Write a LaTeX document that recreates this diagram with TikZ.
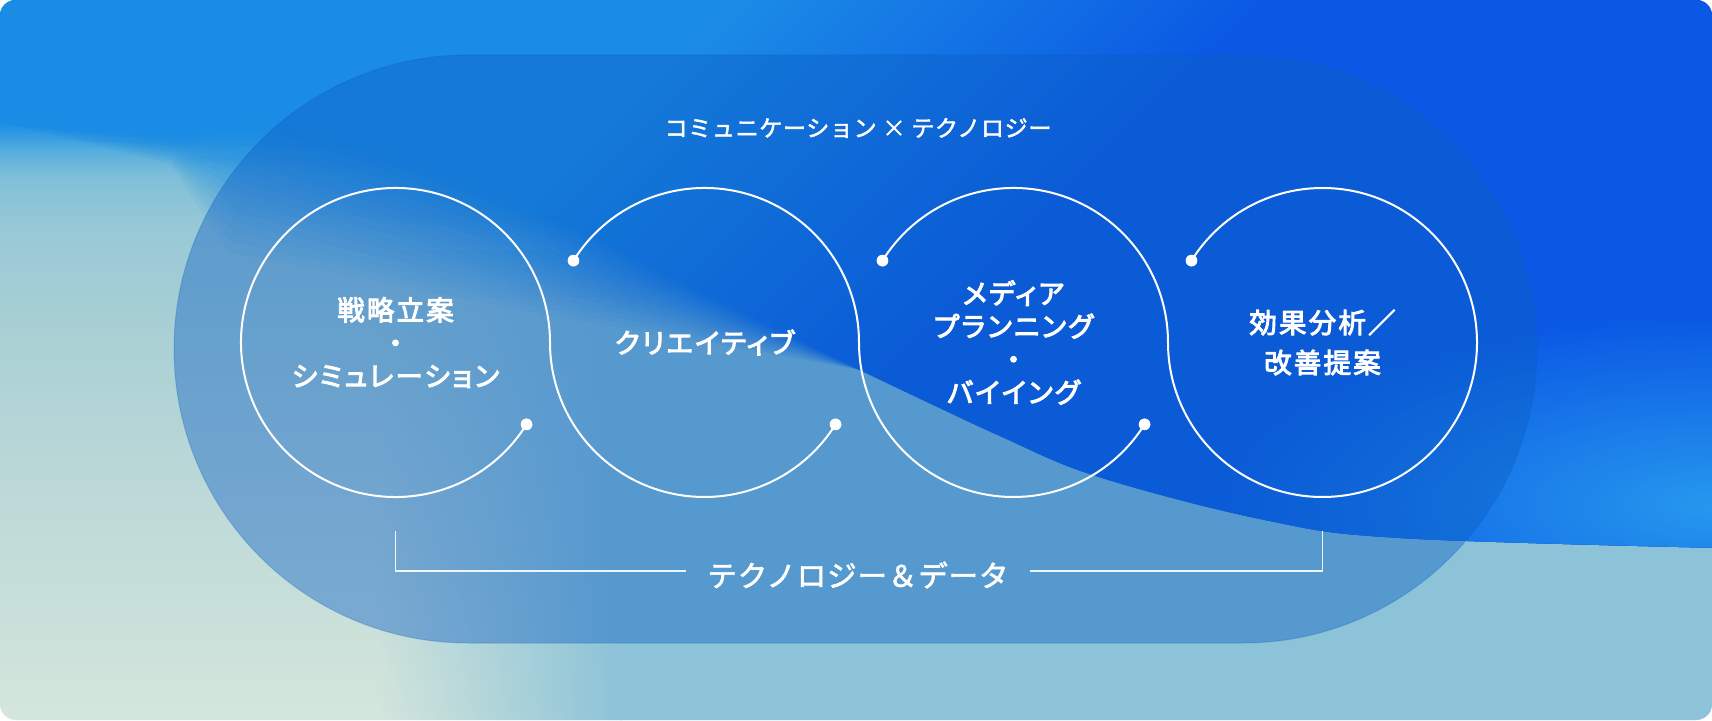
\documentclass[tikz,border=0pt]{standalone}
\usepackage{fontspec}
\newfontfamily\themefont{Noto Sans CJK JP}[LetterSpace=3, FakeBold=2]
\newfontfamily\stagefont{Noto Sans CJK JP}[RawFeature=+palt, LetterSpace=8, FakeBold=3.5]
\newfontfamily\basefont{Noto Sans CJK JP}[LetterSpace=3, FakeBold=2]
\usepackage{tikz}
\usetikzlibrary{positioning, fadings}

\definecolor{bgsky}{HTML}{1B8CE6}
\definecolor{bgskytwo}{HTML}{1E90E4}
\definecolor{bgaqua}{HTML}{5AB0DC}
\definecolor{bgteal}{HTML}{80C0D8}
\definecolor{bgtealtwo}{HTML}{98C8D6}
\definecolor{bgmist}{HTML}{A8D0D4}
\definecolor{bgmisttwo}{HTML}{B9D7D7}
\definecolor{bgsage}{HTML}{D4E6DC}
\definecolor{bglight}{HTML}{8CC3D8}
\definecolor{bgdeep}{HTML}{0B58E4}
\definecolor{bgglow}{HTML}{2698EE}
\definecolor{pillblue}{HTML}{0B5FC4}

\pgfdeclareverticalshading{skyfall}{100bp}{color(0bp)=(bgsage); color(25bp)=(bgsage); color(43.06bp)=(bgmisttwo); color(52.3bp)=(bgmist); color(59.24bp)=(bgtealtwo); color(62.71bp)=(bgteal); color(64.38bp)=(bgaqua); color(66.32bp)=(bgskytwo); color(75bp)=(bgsky); color(100bp)=(bgsky)}
\pgfdeclarehorizontalshading{deepfall}{100bp}{color(0bp)=(bgsky); color(36.8bp)=(bgsky); color(45.45bp)=(bgdeep); color(100bp)=(bgdeep)}
\tikzfading[name=fadein right, left color=transparent!100, right color=transparent!0]
\tikzfading[name=glowfade, inner color=transparent!0, outer color=transparent!100]

\tikzset{
  loop/.style = {draw=white, line width=2pt},
  dot/.style = {circle, fill=white, inner sep=0pt, minimum size=11.5pt},
  stage/.style = {text=white, align=center, inner sep=0pt, font={\stagefont\fontsize{27.5}{33}\selectfont}},
  theme/.style = {text=white, inner sep=0pt, font={\themefont\fontsize{23}{28}\selectfont}},
  base/.style = {text=white, inner ysep=0pt, inner xsep=21pt, font={\basefont\fontsize{29.5}{34}\selectfont}},
  bracket/.style = {draw=white, draw opacity=0.9, line width=1.5pt}
}

\begin{document}
\begin{tikzpicture}[x=1pt, y=1pt]
    \useasboundingbox (0,0) rectangle (1712,720);
    \fill [white] (0,0) rectangle (1712,720);

    \begin{scope}
        \clip [rounded corners=16pt] (0,0) rectangle (1712,720);
        \shade [shading=skyfall] (0,0) rectangle (1712,720);
        \fill [bglight, path fading=fadein right] (380,-10) rectangle (622,470);
        \fill [bglight] (620,-10) rectangle (1722,470);

        \foreach \o/\a in {-75/0.0625, -65/0.0667, -55/0.0714, -45/0.0769, -35/0.0833, -25/0.0909, -15/0.1, -5/0.1111,
                           5/0.125, 15/0.1429, 25/0.1667, 35/0.2, 45/0.25, 55/0.3333, 65/0.5, 75/1} {
            \begin{scope}
                \clip (-30,730) -- (-30,605) -- ([shift={({0.058*\o},{0.191*\o})}]175,570) -- ([shift={({0.29*\o},{0.957*\o})}]250,540)
                    -- ([shift={({0.174*\o},{0.574*\o})}]560,448) -- plot [smooth, tension=0.6] coordinates {(860,350) (1000,284) (1099,243) (1265,200) (1400,182) (1722,172)}
                    -- (1722,730) -- cycle;
                \begin{scope}[transform canvas={rotate around={-45:(0,720)}}]
                    \shade [shading=deepfall, opacity=\a] (0,600) rectangle (2200,2200);
                \end{scope}
            \end{scope}
        }

        \begin{scope}
            \clip (860,730) -- plot [smooth, tension=0.6] coordinates {(860,350) (1000,284) (1099,243) (1265,200) (1400,182) (1722,172)}
                -- (1722,730) -- cycle;
            \fill [bgglow, path fading=glowfade] (1712,215) ellipse [x radius=500pt, y radius=190pt];
        \end{scope}
    \end{scope}

    \fill [pillblue, fill opacity=0.42, rounded corners=294pt] (174,77) rectangle (1537,665);
    \draw [pillblue, draw opacity=0.25, line width=1pt, rounded corners=294pt] (174,77) rectangle (1537,665);

    \coordinate (c1) at ( 395.5,377.5);
    \coordinate (c2) at ( 704.5,377.5);
    \coordinate (c3) at (1013.5,377.5);
    \coordinate (c4) at (1322.5,377.5);

    \begin{scope}[shift={(c1)}]
        \node [dot] (p1) at (-32:154.5pt) {};
    \end{scope}
    \begin{scope}[shift={(c2)}]
        \node [dot] (q1) at (148:154.5pt) {};
        \node [dot] (q2) at (-32:154.5pt) {};
    \end{scope}
    \begin{scope}[shift={(c3)}]
        \node [dot] (r1) at (148:154.5pt) {};
        \node [dot] (r2) at (-32:154.5pt) {};
    \end{scope}
    \begin{scope}[shift={(c4)}]
        \node [dot] (s1) at (148:154.5pt) {};
    \end{scope}

    \draw [loop] (p1.center) arc [start angle=-32, end angle=-360, radius=154.5pt]
        arc [start angle=180, end angle=328, radius=154.5pt];
    \draw [loop] (q1.center) arc [start angle=148, end angle=0, radius=154.5pt]
        arc [start angle=180, end angle=328, radius=154.5pt];
    \draw [loop] (r1.center) arc [start angle=148, end angle=0, radius=154.5pt]
        arc [start angle=180, end angle=508, radius=154.5pt];

    \node [dot] at (p1) {};
    \node [dot] at (q1) {};
    \node [dot] at (q2) {};
    \node [dot] at (r1) {};
    \node [dot] at (r2) {};
    \node [dot] at (s1) {};

    \node [stage] (plan) at (c1) {戦略立案\\・\\シミュレーション};
    \node [stage] (creative) at (c2) {クリエイティブ};
    \node [stage] (media) at (c3) {メディア\\プランニング\\・\\バイイング};
    \node [stage, font={\stagefont\fontsize{27.5}{40}\selectfont}] (review) at (c4) {効果分析／\\改善提案};

    \node [theme] (title) at (858,592) {コミュニケーション × テクノロジー};

    \node [base] (data) at (858,145) {テクノロジー＆データ};
    \coordinate (lt) at (395.5,189);
    \coordinate (rt) at (1322.5,189);
    \draw [bracket] (lt) |- ([yshift=4pt]data.west);
    \draw [bracket] (rt) |- ([yshift=4pt]data.east);
\end{tikzpicture}
\end{document}
